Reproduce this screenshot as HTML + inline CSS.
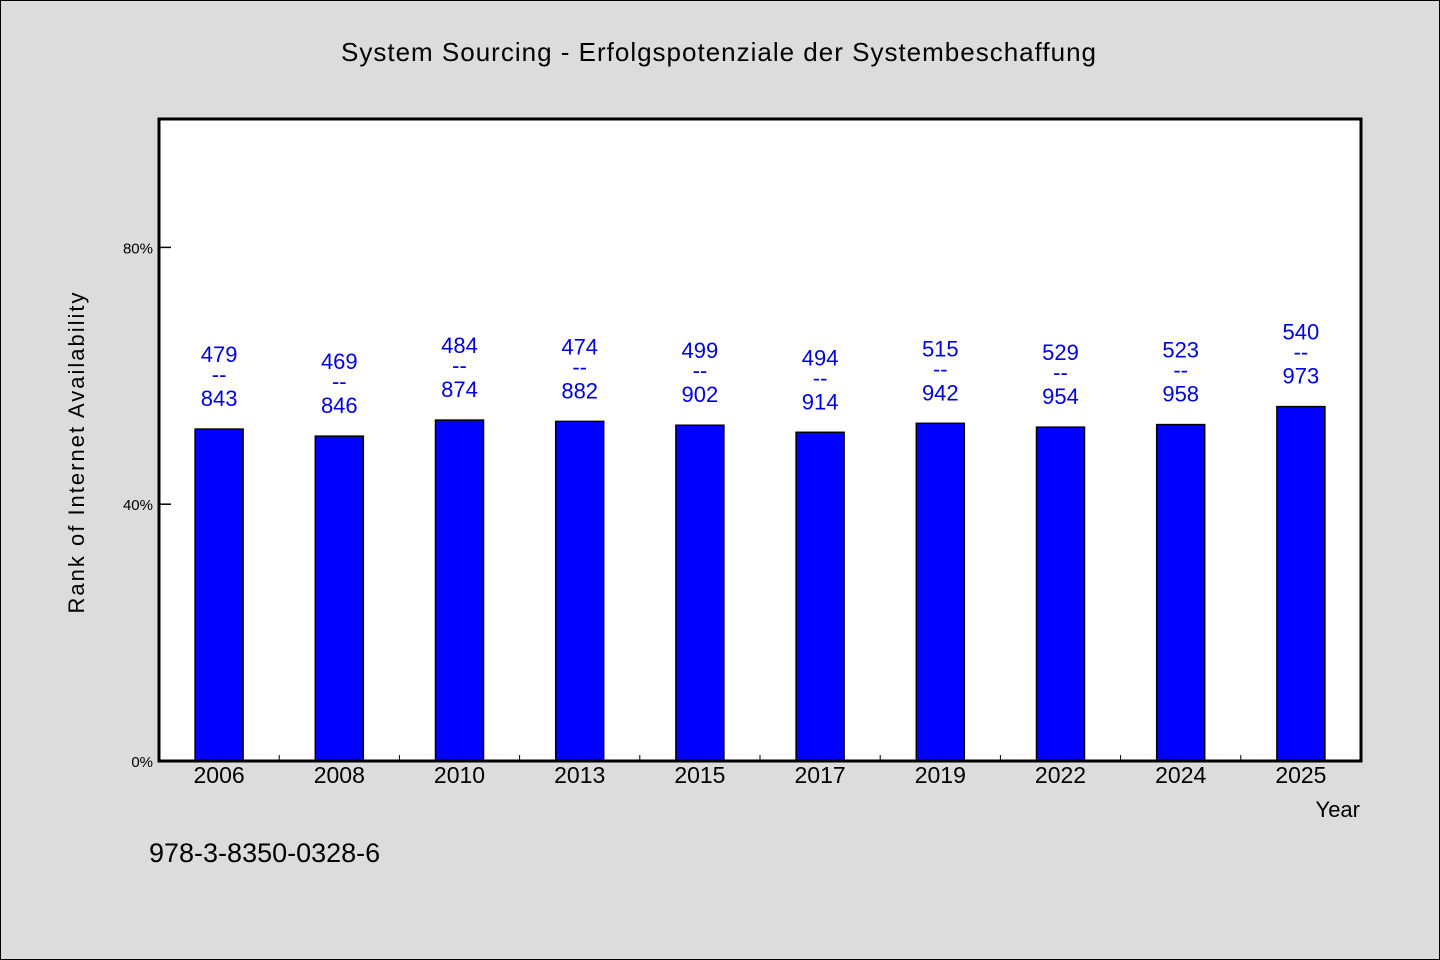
<!DOCTYPE html>
<html><head><meta charset="utf-8"><style>
html,body{margin:0;padding:0;background:#dcdcdc;}
svg{display:block;font-family:"WenQuanYi Zen Hei","Liberation Sans",sans-serif;}
</style></head><body>
<svg id="c" width="1440" height="960" viewBox="0 0 1440 960">
<rect x="0.5" y="0.5" width="1439" height="959" fill="#dcdcdc" stroke="#000"/>
<text x="719" y="61" font-size="26" text-anchor="middle" letter-spacing="1">System Sourcing - Erfolgspotenziale der Systembeschaffung</text>
<rect x="159" y="119" width="1202" height="642" fill="#fff"/>
<g id="marks"></g>
<rect x="159" y="119" width="1202" height="642" fill="none" stroke="#000" stroke-width="3"/>
<text transform="translate(84,452) rotate(-90)" font-size="22" text-anchor="middle" letter-spacing="2">Rank of Internet Availability</text>
<text x="1360" y="817" font-size="22" text-anchor="end">Year</text>
<text x="149" y="862" font-size="27">978-3-8350-0328-6</text>
</svg>
<script>
const categories=["2006","2008","2010","2013","2015","2017","2019","2022","2024","2025"];
const barValues=[51.7,50.6,53.1,52.9,52.3,51.2,52.6,52.0,52.4,55.2];
const topLabels=["479","469","484","474","499","494","515","529","523","540"];
const bottomLabels=["843","846","874","882","902","914","942","954","958","973"];
const yTicks=[0,40,80];
const yTickLabels=["0%","40%","80%"];
const X0=159,X1=1361,Y0=761,Y1=119,YMAX=100;
const band=(X1-X0)/categories.length;
const xc=i=>X0+band*(i+0.5);
const y=v=>Y0-(Y0-Y1)*v/YMAX;
const NS="http://www.w3.org/2000/svg";
const g=document.getElementById('marks');
function mk(t,a,txt){const e=document.createElementNS(NS,t);for(const k in a)e.setAttribute(k,a[k]);if(txt!=null)e.textContent=txt;g.appendChild(e);return e;}
yTicks.forEach((v,i)=>{
 const l=mk('line',{x1:X0,x2:X0+12,y1:y(v),y2:y(v),stroke:'#000','stroke-width':1.5});
 
 
 const t=mk('text',{x:X0-6,y:y(v)+6,'font-size':15,'text-anchor':'end'},yTickLabels[i]);
 
 
});
for(let i=1;i<categories.length;i++){
 const l=mk('line',{x1:X0+band*i,x2:X0+band*i,y1:Y0,y2:Y0-6,stroke:'#000','stroke-width':1});
 
 
}
categories.forEach((c,i)=>{
 const cx=xc(i),top=y(barValues[i]);
 const b=mk('rect',{x:cx-24,y:top,width:48,height:Y0-top,fill:'#0000ff',stroke:'#000','stroke-width':1.5});
 
 
 const t1=mk('text',{x:cx,y:top-67,'font-size':22,'text-anchor':'middle',fill:'#0000dd'},topLabels[i]);
 
 
 const t2=mk('text',{x:cx,y:top-47,'font-size':22,'text-anchor':'middle',fill:'#0000dd'},'--');
 
 
 const t3=mk('text',{x:cx,y:top-23,'font-size':22,'text-anchor':'middle',fill:'#0000dd'},bottomLabels[i]);
 
 
 const xl=mk('text',{x:cx,y:783,'font-size':23,'text-anchor':'middle'},c);
 
 
});
</script>
</body></html>
